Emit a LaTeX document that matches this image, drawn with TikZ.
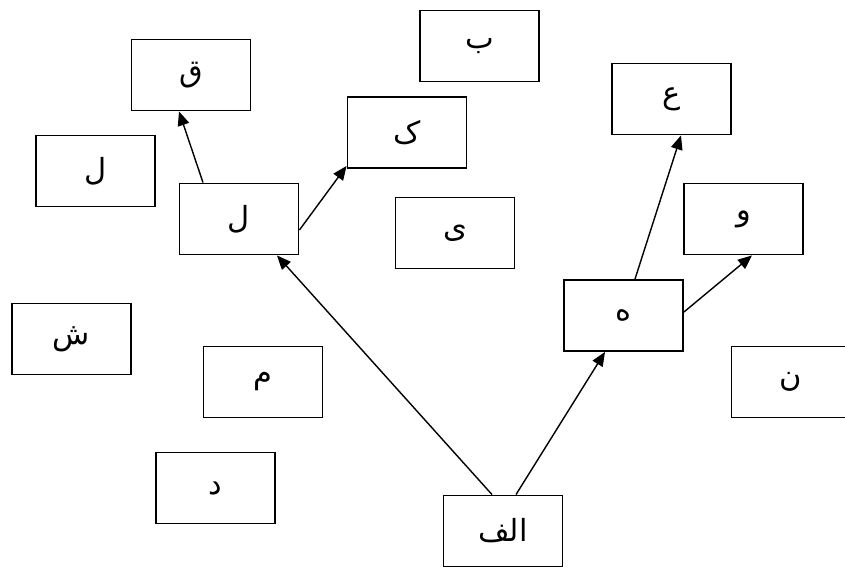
\documentclass[tikz,border=0pt]{standalone}
\usepackage{fontspec}
\newfontfamily\arabicfont[Script=Arabic]{DejaVu Sans}
\TeXXeTstate=1
\usetikzlibrary{arrows.meta,calc}

\newcommand{\harf}[1]{\arabicfont\beginR #1\endR}

\begin{document}
\begin{tikzpicture}[x=0.03cm, y=-0.03cm,
    letterbox/.style={draw, line width=1.6pt, minimum width=3.57cm, minimum height=2.13cm,
        inner sep=0pt, font=\fontsize{26}{30}\selectfont},
    link/.style={line width=1.2pt, -{Triangle[length=12pt, width=10pt]}}]

\clip (0,0) rectangle (845,567);
\useasboundingbox (0,0) rectangle (845,567);

\node[letterbox] (qaf)   at (191,75)    {\harf{ق}};
\node[letterbox] (lamA)  at (95.5,171)  {\harf{ل}};
\node[letterbox] (lamB)  at (239,219)   {\harf{ل}};
\node[letterbox] (be)    at (479.5,46)  {\harf{ب}};
\node[letterbox] (kaf)   at (407,132.5) {\harf{ک}};
\node[letterbox] (ye)    at (455,233)   {\harf{ی}};
\node[letterbox] (ein)   at (671.5,99)  {\harf{ع}};
\node[letterbox] (vav)   at (743.5,219) {\harf{و}};
\node[letterbox] (he)    at (623.5,315.5) {\harf{ه}};
\node[letterbox] (nun)   at (791,382)   {\harf{ن}};
\node[letterbox] (shin)  at (71.5,339)  {\harf{ش}};
\node[letterbox] (mim)   at (263,382)   {\harf{م}};
\node[letterbox] (dal)   at (215.5,488) {\harf{د}};
\node[letterbox] (alef)  at (503,531)   {\harf{الف}};

\draw[link] ($(alef.north)+(-11,0)$) -- ($(lamB.south)+(38,0)$);
\draw[link] ($(alef.north)+(13,0)$) -- ($(he.south)+(-18.5,0)$);
\draw[link] ($(lamB.north)+(-36,0)$) -- ($(qaf.south)+(-12,0)$);
\draw[link] ($(lamB.east)+(0,11)$) -- ($(kaf.south west)+(0,-3)$);
\draw[link] ($(he.north)+(11.5,0)$) -- ($(ein.south)+(9.5,0)$);
\draw[link] ($(he.east)+(0,-3.5)$) -- ($(vav.south)+(8.5,0)$);

\end{tikzpicture}
\end{document}
